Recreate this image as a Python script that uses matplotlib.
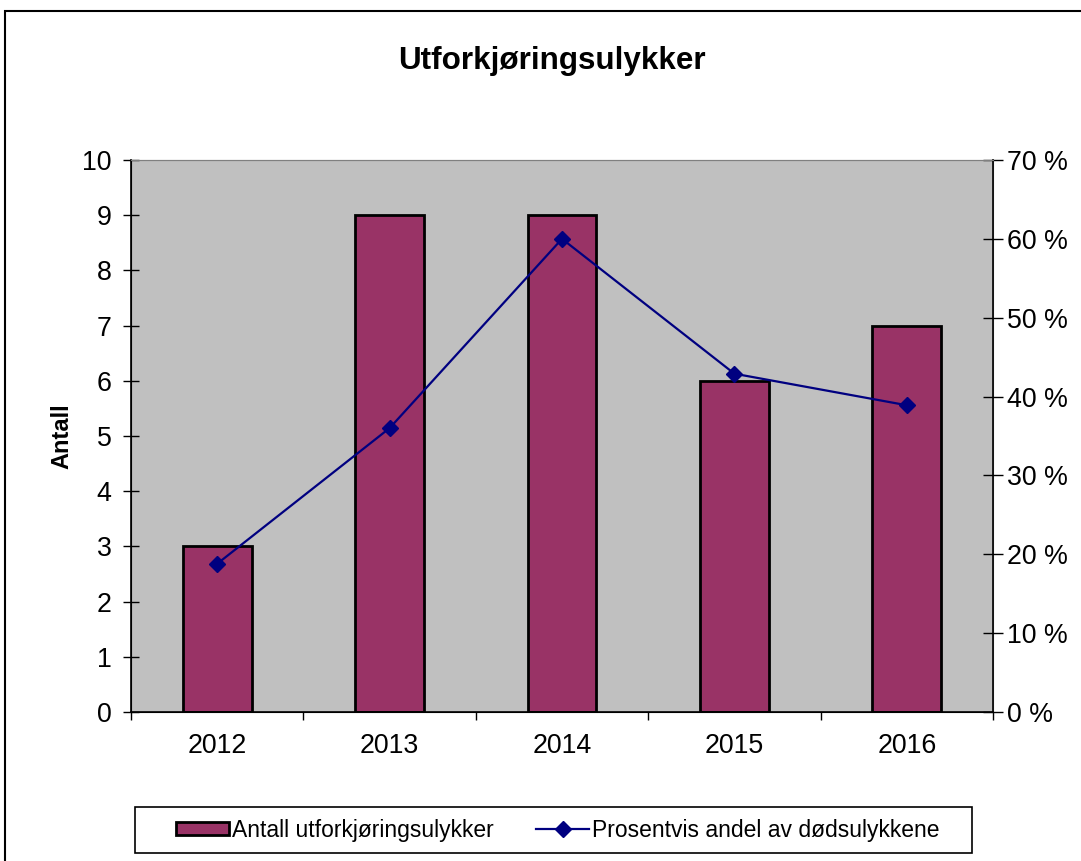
import numpy as np
import matplotlib
matplotlib.use('Agg')
import matplotlib.pyplot as plt
from matplotlib.patches import Rectangle
from matplotlib.ticker import FuncFormatter, FixedLocator

plt.rcParams['font.family'] = ['Liberation Sans', 'DejaVu Sans']

# Data
years = ['2012', '2013', '2014', '2015', '2016']
antall = [3, 9, 9, 6, 7]
prosent = [18.8, 36.0, 60.0, 42.9, 38.9]

bar_color = '#993366'
line_color = '#000080'

fig = plt.figure(figsize=(10.81, 8.61), dpi=100)
ax = fig.add_axes([131 / 1081, 1 - 712 / 861, (993 - 131) / 1081, (712 - 160) / 861])
ax.set_facecolor('#C0C0C0')

x = np.arange(len(years))
bars = ax.bar(x, antall, width=0.4, color=bar_color, edgecolor='black',
              linewidth=2, label='Antall utforkjøringsulykker', zorder=2)

ax.set_xlim(-0.5, len(years) - 0.5)
ax.set_ylim(0, 10)
ax.set_yticks(range(0, 11))
ax.tick_params(axis='y', direction='inout', length=12, width=1, labelsize=19.3, pad=8)

# category boundaries as ticks, labels in the middle
ax.xaxis.set_major_locator(FixedLocator(np.arange(-0.5, len(years), 1.0)))
ax.xaxis.set_minor_locator(FixedLocator(x))
ax.set_xticklabels([])
ax.set_xticklabels(years, minor=True)
ax.tick_params(axis='x', which='major', direction='out', length=6, width=1)
ax.tick_params(axis='x', which='minor', length=0, labelsize=19.3, pad=15)

ax.set_ylabel('Antall', fontsize=17, fontweight='bold', labelpad=6)

for s in ['left', 'bottom']:
    ax.spines[s].set_color('black')
    ax.spines[s].set_linewidth(1.2)
ax.spines['top'].set_color('#808080')
ax.spines['right'].set_color('#808080')

ax2 = ax.twinx()
ax2.set_ylim(0, 70)
ax2.set_yticks(range(0, 71, 10))
ax2.yaxis.set_major_formatter(FuncFormatter(lambda v, p: f'{v:.0f} %'))
ax2.tick_params(axis='y', direction='inout', length=14, width=1, labelsize=19.3, pad=3)
ax2.spines['right'].set_color('black')
ax2.spines['right'].set_linewidth(1.2)
ax2.spines['top'].set_color('#808080')
line, = ax2.plot(x, prosent, color=line_color, linewidth=1.6, marker='D',
                 markersize=8, label='Prosentvis andel av dødsulykkene', zorder=3)

fig.text(552 / 1081, 1 - 61 / 861, 'Utforkjøringsulykker', ha='center', va='center',
         fontsize=22.6, fontweight='bold')

leg = fig.legend([bars, line], ['Antall utforkjøringsulykker', 'Prosentvis andel av dødsulykkene'],
                 loc='center', bbox_to_anchor=(558 / 1081, 1 - 830 / 861), ncol=2,
                 fontsize=16.5, frameon=False,
                 handlelength=2.3, handleheight=0.5, handletextpad=0.13,
                 columnspacing=1.85)

# legend box
fig.patches.append(Rectangle((135 / 1081, 1 - 853 / 861), (972 - 135) / 1081, 46 / 861,
                             transform=fig.transFigure, fill=False,
                             edgecolor='black', linewidth=1.2))

# outer chart frame (runs off the right and bottom edges)
fig.patches.append(Rectangle((5 / 1081, -0.05), 1.2, 1 - 11 / 861 + 0.05,
                             transform=fig.transFigure, fill=False,
                             edgecolor='black', linewidth=1.5))

fig.savefig('out.png', dpi=100)
